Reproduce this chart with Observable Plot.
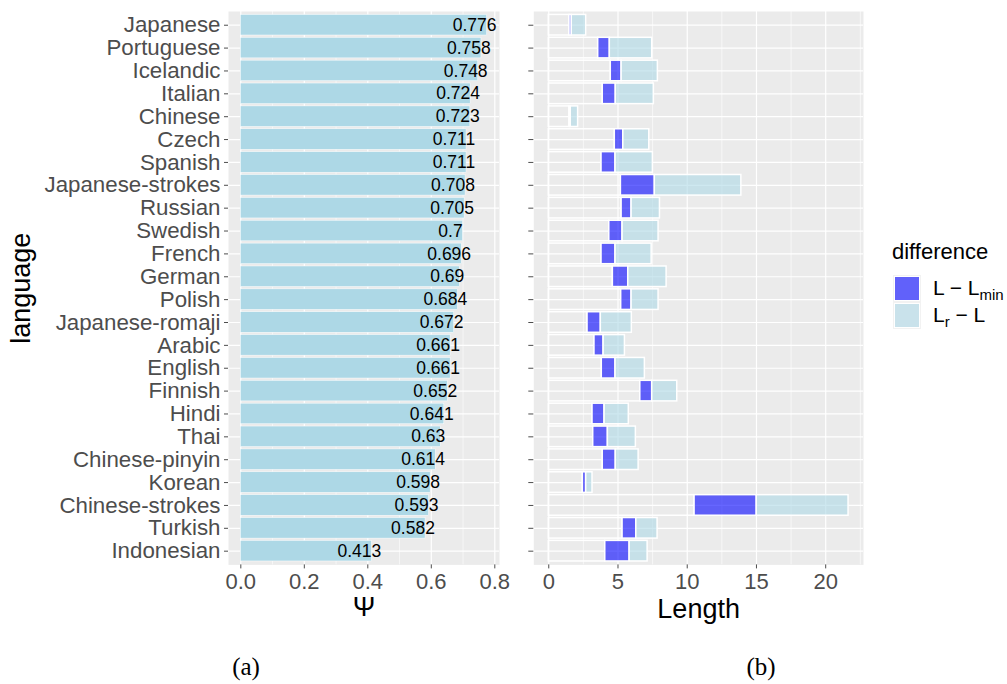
<!DOCTYPE html>
<html>
<head>
<meta charset="utf-8">
<script src="https://cdn.jsdelivr.net/npm/d3@7"></script>
<script src="https://cdn.jsdelivr.net/npm/@observablehq/plot@0.6"></script>
<style>
  html, body { margin: 0; padding: 0; background: white; }
  #wrap { position: relative; width: 1007px; height: 684px; overflow: hidden; font-family: "Liberation Sans", Arial, sans-serif; }
  #wrap svg { position: absolute; top: 0; }
  .abs { position: absolute; white-space: nowrap; line-height: 1; }
  .sw { position: absolute; width: 26px; height: 25px; box-sizing: border-box; border: 1px solid #fff; }
  .cap { position: absolute; font-family: "Liberation Serif", "Times New Roman", serif; font-size: 25px; line-height: 1; transform: translate(-50%, -50%); }
</style>
</head>
<body>
<div id="wrap"></div>
<script>
// ---- data ----
const languages = ["Japanese","Portuguese","Icelandic","Italian","Chinese","Czech","Spanish","Japanese-strokes","Russian","Swedish","French","German","Polish","Japanese-romaji","Arabic","English","Finnish","Hindi","Thai","Chinese-pinyin","Korean","Chinese-strokes","Turkish","Indonesian"];
const psi  = [0.776,0.758,0.748,0.724,0.723,0.711,0.711,0.708,0.705,0.7,0.696,0.69,0.684,0.672,0.661,0.661,0.652,0.641,0.63,0.614,0.598,0.593,0.582,0.413];
const Lmin = [1.50,3.57,4.48,3.90,1.50,4.77,3.81,5.21,5.26,4.37,3.81,4.63,5.23,2.80,3.30,3.83,6.61,3.16,3.21,3.90,2.46,10.53,5.33,4.08];
const Lval = [1.66,4.41,5.26,4.84,1.59,5.38,4.82,7.66,5.98,5.33,4.82,5.74,5.98,3.76,3.96,4.82,7.47,4.03,4.27,4.84,2.70,15.02,6.32,5.84];
const Lr   = [2.70,7.47,7.88,7.59,2.12,7.26,7.52,13.91,8.03,7.93,7.43,8.51,7.93,6.00,5.50,6.94,9.28,5.78,6.29,6.49,3.16,21.65,7.86,7.14];
const psiTicks = [0, 0.2, 0.4, 0.6, 0.8];
const psiMinor = [0.1, 0.3, 0.5, 0.7];
const lenTicks = [0, 5, 10, 15, 20];
const lenMinor = [2.5, 7.5, 12.5, 17.5, 22.5];

const rows = languages.map((language, i) => ({language, psi: psi[i], Lmin: Lmin[i], L: Lval[i], Lr: Lr[i]}));

const H = 640, MT = 11, MB = 75.6;
const yScale = {domain: languages, paddingInner: 0.1, paddingOuter: 0.15, align: 0.5, round: false};
const baseStyle = {fontFamily: "Liberation Sans, Arial, sans-serif", fontSize: "22px", color: "#4d4d4d", background: "transparent", overflow: "visible"};

const plotA = Plot.plot({
  width: 510, height: H,
  marginLeft: 228, marginRight: 11, marginTop: MT, marginBottom: MB,
  x: {domain: [-0.0388, 0.8148]},
  y: yScale,
  style: baseStyle,
  marks: [
    Plot.frame({fill: "#ebebeb", stroke: null}),
    Plot.ruleX(psiMinor, {stroke: "white", strokeWidth: 0.6}),
    Plot.ruleX(psiTicks, {stroke: "white", strokeWidth: 1.2}),
    Plot.ruleY(languages, {y: d => d, stroke: "white", strokeWidth: 1.2}),
    Plot.barX(rows, {x: "psi", y: "language", fill: "#add8e6", stroke: "white", strokeWidth: 0.5}),
    Plot.text(rows, {x: "psi", y: "language", text: d => String(d.psi), dx: -12.6, fill: "black", fontSize: 17.5, textAnchor: "middle"}),
    Plot.axisY({tickSize: 4, tickPadding: 4, fontSize: 22.3, label: null}),
    Plot.axisX(psiTicks, {tickSize: 4, tickPadding: 4, tickFormat: d3.format(".1f"), label: null, fontSize: 22}),
    Plot.text(["Ψ"], {text: d => d, frameAnchor: "bottom", lineAnchor: "middle", textAnchor: "middle", dy: 42, fontSize: 27, fill: "black"}),
    Plot.text(["language"], {text: d => d, frameAnchor: "left", lineAnchor: "middle", textAnchor: "middle", dx: -207, rotate: -90, fontSize: 27, fill: "black"})
  ]
});

const plotB = Plot.plot({
  width: 380, height: H,
  marginLeft: 33.3, marginRight: 17, marginTop: MT, marginBottom: MB,
  x: {domain: [-1.08, 22.73]},
  y: yScale,
  style: baseStyle,
  marks: [
    Plot.frame({fill: "#ebebeb", stroke: null}),
    Plot.ruleX(lenMinor, {stroke: "white", strokeWidth: 0.6}),
    Plot.ruleX(lenTicks, {stroke: "white", strokeWidth: 1.2}),
    Plot.ruleY(languages, {y: d => d, stroke: "white", strokeWidth: 1.2}),
    Plot.barX(rows, {x: "Lmin", y: "language", fill: "none", stroke: "white", strokeWidth: 1.5}),
    Plot.barX(rows, {x1: "Lmin", x2: "L", y: "language", fill: "blue", fillOpacity: 0.6, stroke: "white", strokeWidth: 1.5}),
    Plot.barX(rows, {x1: "L", x2: "Lr", y: "language", fill: "#add8e6", fillOpacity: 0.6, stroke: "white", strokeWidth: 1.5}),
    Plot.axisY({tickSize: 5, tickPadding: 0, tickFormat: () => "", label: null}),
    Plot.axisX(lenTicks, {tickSize: 4, tickPadding: 4, label: null, fontSize: 22}),
    Plot.text(["Length"], {text: d => d, frameAnchor: "bottom", lineAnchor: "middle", textAnchor: "middle", dy: 44, fontSize: 27, fill: "black"})
  ]
});

const wrap = document.getElementById("wrap");
plotA.style.left = "0px";
plotB.style.left = "500px";
wrap.appendChild(plotA);
wrap.appendChild(plotB);

// legend
const legendTitle = "difference";
const legendItems = [
  {color: "#6161fa", main: "L − L", sub: "min", after: ""},
  {color: "#c9e2eb", main: "L", sub: "r", after: " − L"}
];
const lt = document.createElement("div");
lt.className = "abs";
lt.style.cssText = "left:892px;top:241px;font-size:22px;color:black;";
lt.textContent = legendTitle;
wrap.appendChild(lt);
legendItems.forEach((it, i) => {
  const top = 276 + i * 27;
  const bg = document.createElement("div");
  bg.style.cssText = `position:absolute;left:893px;top:${top-1}px;width:28px;height:27px;background:#f2f2f2;`;
  wrap.appendChild(bg);
  const sw = document.createElement("div");
  sw.className = "sw";
  sw.style.cssText = `left:894px;top:${top}px;background:${it.color};`;
  wrap.appendChild(sw);
  const lab = document.createElement("div");
  lab.className = "abs";
  lab.style.cssText = `left:933px;top:${top + 1}px;font-size:21px;color:black;`;
  lab.innerHTML = `${it.main}<span style="font-size:15px;position:relative;top:5px;">${it.sub}</span>${it.after}`;
  wrap.appendChild(lab);
});

// captions
[["(a)", 246], ["(b)", 761]].forEach(([t, x]) => {
  const c = document.createElement("div");
  c.className = "cap";
  c.style.left = x + "px";
  c.style.top = "666px";
  c.textContent = t;
  wrap.appendChild(c);
});
</script>
</body>
</html>
